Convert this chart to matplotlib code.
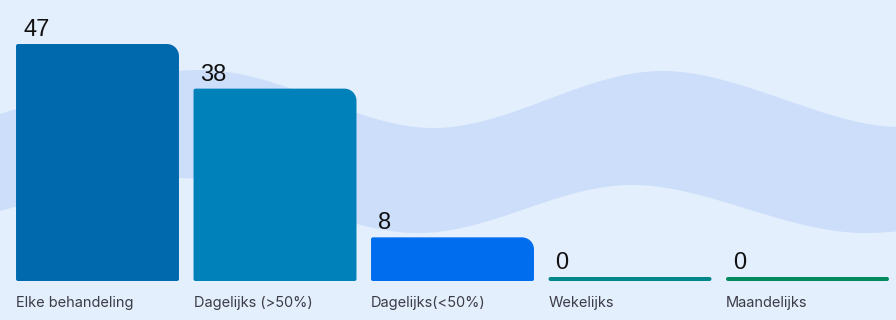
import numpy as np
import matplotlib
matplotlib.use("Agg")
import matplotlib.pyplot as plt
from matplotlib.path import Path
from matplotlib.patches import PathPatch

# ---- data ----
categories = ["Elke behandeling", "Dagelijks (>50%)", "Dagelijks(<50%)", "Wekelijks", "Maandelijks"]
values = [47, 38, 8, 0, 0]
colors = ["#0069AE", "#0081B9", "#006DEE", "#00878A", "#008A5E"]

# decorative wave band (figure pixel coords, y from top)
band_top_x = [-60, 200, 433, 662, 900, 1100]
band_top_y = [130, 70, 128, 71, 127, 70]
band_bot_x = [-60, 180, 415, 632, 865, 1100]
band_bot_y = [225, 178, 233, 185, 233, 185]

W, H = 896, 320
BG = "#E3EFFD"
BAND = "#CCDEFA"

def catmull(xs, ys, n=60):
    xs = np.asarray(xs, float); ys = np.asarray(ys, float)
    P = np.column_stack([xs, ys])
    P = np.vstack([2*P[0]-P[1], P, 2*P[-1]-P[-2]])
    out = []
    for i in range(1, len(P)-2):
        p0, p1, p2, p3 = P[i-1], P[i], P[i+1], P[i+2]
        t = np.linspace(0, 1, n, endpoint=False)[:, None]
        pts = 0.5*((2*p1) + (-p0+p2)*t + (2*p0-5*p1+4*p2-p3)*t**2 + (-p0+3*p1-3*p2+p3)*t**3)
        out.append(pts)
    out.append(P[-2][None, :])
    return np.vstack(out)

fig = plt.figure(figsize=(W/100, H/100), dpi=100, facecolor=BG)

# background axes in pixel coords
bg = fig.add_axes([0, 0, 1, 1], zorder=0)
bg.set_xlim(0, W); bg.set_ylim(H, 0); bg.axis("off")
top = catmull(band_top_x, band_top_y)
bot = catmull(band_bot_x, band_bot_y)
poly = np.vstack([top, bot[::-1]])
bg.fill(poly[:, 0], poly[:, 1], color=BAND, lw=0)

# main axes
ax_left = 8.75 / W
ax_w = 887.5 / W
ax_bottom = (H - 281) / H
ax_h = 281 / H
ax = fig.add_axes([ax_left, ax_bottom, ax_w, ax_h], zorder=1)
ax.patch.set_alpha(0)
ymin, ymax = -0.807, 55.88
ax.set_xlim(-0.5, len(categories) - 0.5)
ax.set_ylim(ymin, ymax)
ax.axis("off")

px_x = (ax_w * W) / len(categories)     # px per x unit
px_y = (ax_h * H) / (ymax - ymin)       # px per y unit
bw = 0.918

def bar_path(x0, x1, y0, y1, r_tr, r_small):
    def arc(cx, cy, rpx, a0, a1):
        rx = rpx / px_x; ry = rpx / px_y
        a = np.linspace(a0, a1, 12)
        return np.column_stack([cx + rx*np.cos(a), cy + ry*np.sin(a)])
    h_px = (y1 - y0) * px_y
    r_tr = min(r_tr, h_px / 2)
    r_small = min(r_small, h_px / 2)
    rxs, rys = r_small/px_x, r_small/px_y
    rxt, ryt = r_tr/px_x, r_tr/px_y
    pts = []
    pts.append(arc(x0 + rxs, y0 + rys, r_small, np.pi, 1.5*np.pi))
    pts.append(arc(x1 - rxs, y0 + rys, r_small, 1.5*np.pi, 2*np.pi))
    pts.append(arc(x1 - rxt, y1 - ryt, r_tr, 0, 0.5*np.pi))
    pts.append(arc(x0 + rxs, y1 - rys, r_small, 0.5*np.pi, np.pi))
    v = np.vstack(pts)
    v = np.vstack([v, v[:1]])
    codes = [Path.MOVETO] + [Path.LINETO]*(len(v)-2) + [Path.CLOSEPOLY]
    return Path(v, codes)

for i, (cat, val, col) in enumerate(zip(categories, values, colors)):
    x0 = i - bw/2; x1 = i + bw/2
    rtr = 12 if val > 0 else 2
    p = bar_path(x0, x1, ymin, val, rtr, 2)
    ax.add_patch(PathPatch(p, facecolor=col, edgecolor="none"))
    ax.annotate(str(val), xy=(x0, val), xytext=(7*0.72, 8*0.72), textcoords="offset points",
                ha="left", va="baseline", fontsize=17, color="#111111",
                family="Liberation Sans")
    ax.annotate(cat, xy=(x0, ymin), xytext=(0, -26*0.72), textcoords="offset points",
                ha="left", va="baseline", fontsize=10.5, color="#3C3C46",
                family="Inter")

fig.savefig("out.png", dpi=100, facecolor=BG)
